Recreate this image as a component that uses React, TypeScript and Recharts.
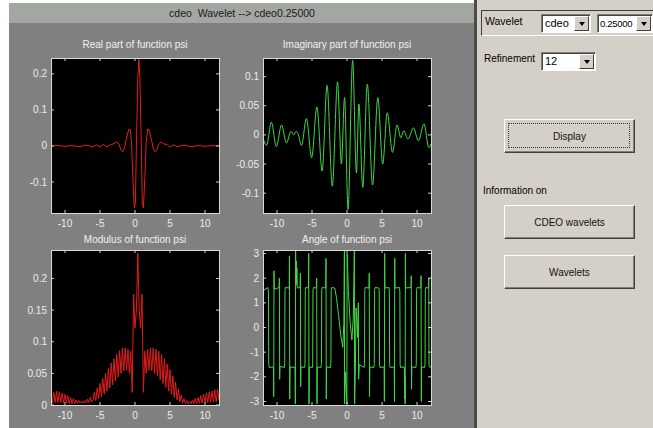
import React from 'react';
import { LineChart, Line, XAxis, YAxis } from 'recharts';

// shared x range and ticks
const xTicks = [-10, -5, 0, 5, 10];

// Real part of psi
const realX = [
  -12, -11, -10, -9, -8, -7, -6, -5.5, -5, -4.5,
  -4, -3.5, -3, -2.6, -2.3, -2, -1.75, -1.5, -1.2, -0.9,
  -0.7, -0.5, -0.3, -0.1, 0.05, 0.2, 0.4, 0.55, 0.7, 0.9,
  1.05, 1.2, 1.4, 1.6, 1.8, 2, 2.3, 2.6, 2.85, 3.1,
  3.4, 3.7, 4.1, 4.6, 5, 5.5, 6, 7, 8, 9,
  10, 11, 12,
];
const realY = [
  0, 0.001, -0.001, 0.001, -0.002, 0.002, -0.002, 0.003, -0.002, 0.004,
  -0.003, 0.004, 0.006, 0.011, 0.006, -0.012, -0.016, -0.006, 0.022, 0.045,
  0.047, 0.01, -0.09, -0.172, -0.16, 0, 0.19, 0.24, 0.19, 0,
  -0.16, -0.172, -0.09, 0.01, 0.047, 0.045, 0.022, -0.006, -0.016, -0.012,
  0.006, 0.011, 0.006, 0.003, -0.003, 0.003, -0.002, 0.002, -0.002, 0.001,
  -0.001, 0.001, 0,
];

// Imaginary part of psi
const imagX = [
  -12, -11.5, -10.8, -10.1, -9.35, -8.65, -8, -7.6, -7.3, -7,
  -6.5, -5.8, -5.05, -4.3, -3.55, -2.85, -2.1, -1.35, -0.8, -0.35,
  0.15, 0.8, 1.35, 1.7, 2.25, 2.9, 3.65, 4.4, 5.1, 5.75,
  6.5, 7.15, 7.7, 8.1, 8.7, 9.5, 10.2, 11, 11.7, 12,
];
const imagY = [
  -0.005, -0.018, 0.022, -0.02, 0.017, -0.014, 0.006, 0, 0.006, 0.002,
  -0.018, 0.028, -0.039, 0.048, -0.062, 0.085, -0.088, 0.091, -0.05, 0.064,
  -0.128, 0.128, -0.065, 0.053, -0.09, 0.087, -0.086, 0.064, -0.05, 0.038,
  -0.03, 0.017, -0.005, 0.007, -0.007, 0.012, -0.01, 0.019, -0.022, -0.015,
];

// Modulus of psi
const modX = [
  -12, -11.8, -11.6, -11.4, -11.2, -11, -10.8, -10.6, -10.4, -10.2,
  -10, -9.8, -9.6, -9.4, -9.2, -9, -8.8, -8.6, -8.4, -8.2,
  -8, -7.8, -7.6, -7.4, -7.2, -7, -6.8, -6.6, -6.4, -6.2,
  -6, -5.8, -5.6, -5.4, -5.2, -5, -4.8, -4.6, -4.4, -4.2,
  -4, -3.8, -3.6, -3.4, -3.2, -3, -2.8, -2.6, -2.4, -2.2,
  -2, -1.8, -1.6, -1.4, -1.2, -1, -0.8, -0.6, -0.4, -0.2,
  0, 0.2, 0.4, 0.6, 0.8, 1, 1.2, 1.4, 1.6, 1.8,
  2, 2.2, 2.4, 2.6, 2.8, 3, 3.2, 3.4, 3.6, 3.8,
  4, 4.2, 4.4, 4.6, 4.8, 5, 5.2, 5.4, 5.6, 5.8,
  6, 6.2, 6.4, 6.6, 6.8, 7, 7.2, 7.4, 7.6, 7.8,
  8, 8.2, 8.4, 8.6, 8.8, 9, 9.2, 9.4, 9.6, 9.8,
  10, 10.2, 10.4, 10.6, 10.8, 11, 11.2, 11.4, 11.6, 11.8,
  12,
];
const modY = [
  0.016, 0.003, 0.02, 0.004, 0.022, 0.004, 0.021, 0.004, 0.019, 0.003,
  0.017, 0.003, 0.015, 0.002, 0.012, 0.002, 0.01, 0.002, 0.008, 0.002,
  0.007, 0.003, 0.006, 0.003, 0.007, 0.003, 0.009, 0.004, 0.012, 0.005,
  0.008, 0.02, 0.007, 0.027, 0.01, 0.034, 0.013, 0.042, 0.017, 0.05,
  0.022, 0.058, 0.027, 0.066, 0.032, 0.073, 0.038, 0.08, 0.044, 0.086,
  0.05, 0.09, 0.054, 0.09, 0.055, 0.088, 0.05, 0.085, 0.02, 0.175,
  0.122, 0.15, 0.24, 0.15, 0.122, 0.175, 0.02, 0.085, 0.05, 0.088,
  0.055, 0.09, 0.054, 0.09, 0.05, 0.088, 0.046, 0.085, 0.04, 0.08,
  0.034, 0.073, 0.028, 0.065, 0.022, 0.056, 0.017, 0.046, 0.012, 0.036,
  0.008, 0.025, 0.005, 0.016, 0.003, 0.01, 0.002, 0.007, 0.002, 0.006,
  0.002, 0.008, 0.002, 0.01, 0.002, 0.012, 0.003, 0.015, 0.003, 0.017,
  0.004, 0.019, 0.004, 0.021, 0.004, 0.022, 0.005, 0.024, 0.005, 0.025,
  0.008,
];

// Angle of psi
const angleX = [
  -12, -11.96, -11.3, -11.22, -11.18, -11.1, -10.5, -10.47, -10.43, -10.4,
  -9.7, -9.66, -9.62, -9.58, -8.95, -8.9, -8.86, -8.8, -8.25, -8.22,
  -8.18, -8.14, -7.42, -7.38, -7.34, -7.3, -7.25, -7.2, -7.15, -7.1,
  -6.7, -6.66, -6.62, -6.58, -6.05, -6, -5.96, -5.9, -5.5, -5.47,
  -5.43, -5.39, -4.95, -4.9, -4.86, -4.8, -4.36, -4.33, -4.29, -4.25,
  -3.7, -3.65, -3.61, -3.55, -3.03, -3, -2.96, -2.92, -2.35, -2.3,
  -2.26, -2.2, -1.75, -1.5, -1.2, -0.9, -0.6, -0.45, -0.4, -0.37,
  -0.35, -0.2, -0.05, -0.02, 0.02, 0.2, 0.45, 0.7, 0.9, 1.05,
  1.09, 1.2, 1.3, 1.5, 1.62, 1.66, 1.75, 2.45, 2.5, 2.54,
  2.6, 3.15, 3.18, 3.22, 3.26, 3.85, 3.9, 3.94, 4, 4.55,
  4.6, 4.64, 4.7, 5.31, 5.34, 5.38, 5.42, 6, 6.05, 6.09,
  6.15, 6.75, 6.78, 6.82, 6.86, 7.5, 7.55, 7.59, 7.65, 8.2,
  8.24, 8.26, 8.28, 8.31, 8.34, 8.38, 9.15, 9.18, 9.22, 9.26,
  9.85, 9.9, 9.94, 10, 10.55, 10.58, 10.62, 10.66, 11.1, 11.15,
  11.19, 11.25, 11.65, 11.68, 11.72, 11.76, 12,
];
const angleY = [
  0.2, 1.5, 1.62, 1.45, -1.5, -1.62, -1.6, -2.8, 2.3, 1.55,
  1.62, 2.0, -2.1, -1.58, -1.62, -1.45, 1.5, 1.62, 1.6, 2.9,
  -2.9, -1.6, -1.62, -3.1, 3.1, 1.7, 2.7, 1.8, 2.4, 1.6,
  1.62, 2.2, -2.4, -1.6, -1.62, -1.45, 1.5, 1.62, 1.6, 3.0,
  -3.1, -1.6, -1.62, -1.45, 1.5, 1.62, 1.6, 2.0, -3.1, -1.6,
  -1.62, -1.45, 1.5, 1.62, 1.6, 2.8, -2.9, -1.6, -1.62, -1.45,
  1.5, 1.62, 1.6, 1.2, 0.5, -0.3, -0.8, 0.2, 2.2, 3.1,
  -3.1, -1.8, -2.9, -3.1, 3.0, 1.5, 0.2, -0.5, 0.4, 3.1,
  -3.1, -1.6, 0.8, -0.4, 1.0, -2.1, -1.5, -1.62, -1.45, 1.5,
  1.62, 1.6, 2.2, -2.8, -1.6, -1.62, -1.45, 1.5, 1.62, 1.6,
  1.45, -1.5, -1.62, -1.6, -3.0, 3.0, 1.6, 1.62, 1.45, -1.5,
  -1.62, -1.6, -3.0, 2.8, 1.6, 1.62, 1.45, -1.5, -1.62, -1.6,
  -2.2, -2.9, -2.0, -3.1, 3.0, 1.6, 1.62, 2.1, -2.5, -1.6,
  -1.62, -1.45, 1.5, 1.62, 1.6, 2.1, -3.0, -1.6, -1.62, -1.45,
  1.5, 1.62, 1.6, 2.0, -1.5, -1.6, -1.6,
];

const realTicks = [-0.1, 0, 0.1, 0.2];
const imagTicks = [-0.1, -0.05, 0, 0.05, 0.1];
const modTicks = [0, 0.05, 0.1, 0.15, 0.2];
const angleTicks = [-3, -2, -1, 0, 1, 2, 3];

const FONT = '"Liberation Sans", Arial, sans-serif';
const PANEL = '#d4d0c8';
const RED = '#e41c1c';
const GREEN = '#3fd83f';

// plot geometry (pixels)
const PW = 168;
const PH = 155;
const YW = 40;
const MT = 4;
const MR = 6;
const XH = 22;

type PanelProps = {
  left: number;
  top: number;
  titleTop: number;
  title: string;
  xs: number[];
  ys: number[];
  domain: [number, number];
  yTicks: number[];
  color: string;
  curve: 'linear' | 'monotone';
};

function Panel({ left, top, titleTop, title, xs, ys, domain, yTicks, color, curve }: PanelProps) {
  const data = xs.map((x, i) => ({ x, y: ys[i] }));
  const pL = YW;
  const pR = YW + PW;
  const pT = MT;
  const pB = MT + PH;
  const tickColor = '#d0d0d0';

  const XTick = (p: any) => (
    <g>
      <line x1={p.x} x2={p.x} y1={pB} y2={pB - 3} stroke={tickColor} />
      <line x1={p.x} x2={p.x} y1={pT} y2={pT + 3} stroke={tickColor} />
      <text x={p.x} y={pB + 14} textAnchor="middle" fill="#ececec" fontSize={10} fontFamily={FONT}>
        {p.payload.value}
      </text>
    </g>
  );
  const YTick = (p: any) => (
    <g>
      <line x1={pL} x2={pL + 3} y1={p.y} y2={p.y} stroke={tickColor} />
      <line x1={pR - 3} x2={pR} y1={p.y} y2={p.y} stroke={tickColor} />
      <text x={pL - 4} y={p.y + 3.5} textAnchor="end" fill="#ececec" fontSize={10} fontFamily={FONT}>
        {p.payload.value}
      </text>
    </g>
  );

  return (
    <>
      <div
        style={{
          position: 'absolute', left: left - 30, top: titleTop, width: PW + 60,
          textAlign: 'center', color: '#f0f0f0', fontSize: 10, fontFamily: FONT, lineHeight: '12px',
        }}
      >
        {title}
      </div>
      <div style={{ position: 'absolute', left, top, width: PW, height: PH, background: '#000' }} />
      <div style={{ position: 'absolute', left: left - YW, top: top - MT }}>
        <LineChart
          width={YW + PW + MR}
          height={MT + PH + XH}
          data={data}
          margin={{ top: MT, right: MR, bottom: 0, left: 0 }}
        >
          <XAxis
            dataKey="x" type="number" domain={[-12, 12]} ticks={xTicks} interval={0}
            tick={XTick} tickLine={false} axisLine={false} height={XH} allowDataOverflow
          />
          <YAxis
            type="number" domain={domain} ticks={yTicks} interval={0}
            tick={YTick} tickLine={false} axisLine={false} width={YW} allowDataOverflow
          />
          <Line
            dataKey="y" type={curve} stroke={color} strokeWidth={1}
            dot={false} isAnimationActive={false}
          />
        </LineChart>
      </div>
      <div
        style={{
          position: 'absolute', left, top, width: PW + 1, height: PH + 1,
          boxSizing: 'border-box', border: '1px solid #d8d8d8', pointerEvents: 'none',
        }}
      />
    </>
  );
}

function Button({ top, label, focus }: { top: number; label: string; focus?: boolean }) {
  return (
    <div
      style={{
        position: 'absolute', left: 504, top, width: 131, height: 34, background: PANEL,
        boxSizing: 'border-box', borderStyle: 'solid', borderWidth: 1,
        borderColor: '#ffffff #404040 #404040 #ffffff', boxShadow: 'inset -1px -1px 0 #808080',
        display: 'flex', alignItems: 'center', justifyContent: 'center',
        fontSize: 10, fontFamily: FONT, color: '#111',
      }}
    >
      {focus && (
        <div style={{ position: 'absolute', left: 3, top: 3, right: 4, bottom: 4, border: '1px dotted #333' }} />
      )}
      {label}
    </div>
  );
}

function Select({ left, top, width, text, small }: { left: number; top: number; width: number; text: string; small?: boolean }) {
  return (
    <div
      style={{
        position: 'absolute', left, top, width, height: 19, background: '#fff',
        boxSizing: 'border-box', borderStyle: 'solid', borderWidth: 1,
        borderColor: '#808080 #ffffff #ffffff #808080', boxShadow: 'inset 1px 1px 0 #404040',
        overflow: 'hidden', fontSize: small ? 9.5 : 11, fontFamily: FONT, color: '#000',
      }}
    >
      <div
        style={{
          position: 'absolute', left: small ? 2 : 3, top: small ? 3 : 2, whiteSpace: 'nowrap',
          letterSpacing: small ? -0.3 : 0,
        }}
      >
        {text}
      </div>
      <div
        style={{
          position: 'absolute', right: 1, top: 1, width: 15, height: 15, background: PANEL,
          boxSizing: 'border-box', borderStyle: 'solid', borderWidth: 1,
          borderColor: '#ffffff #404040 #404040 #ffffff',
        }}
      >
        <div
          style={{
            width: 0, height: 0, margin: '5px auto 0', borderLeft: '3.5px solid transparent',
            borderRight: '3.5px solid transparent', borderTop: '4px solid #000',
          }}
        />
      </div>
    </div>
  );
}

export default function App() {
  return (
    <div
      style={{
        position: 'absolute', left: 0, top: 0, width: 653, height: 428,
        background: '#fff', overflow: 'hidden', fontFamily: FONT,
      }}
    >
      {/* figure area */}
      <div style={{ position: 'absolute', left: 9, top: 3, width: 466, height: 425, background: '#808080' }} />
      <div
        style={{
          position: 'absolute', left: 9, top: 3, width: 466, height: 20, background: '#a3a7a1',
          textAlign: 'center', fontSize: 10.5, lineHeight: '20px', color: '#1a1a1a', whiteSpace: 'pre',
        }}
      >
        {'cdeo  Wavelet --> cdeo0.25000'}
      </div>
      <div style={{ position: 'absolute', left: 474, top: 0, width: 3, height: 428, background: '#4a4a4a' }} />

      <Panel left={51} top={58} titleTop={39} title="Real part of function psi"
        xs={realX} ys={realY} domain={[-0.186, 0.244]} yTicks={realTicks} color={RED} curve="linear" />
      <Panel left={263} top={58} titleTop={39} title="Imaginary part of function psi"
        xs={imagX} ys={imagY} domain={[-0.134, 0.132]} yTicks={imagTicks} color={GREEN} curve="monotone" />
      <Panel left={51} top={250} titleTop={234} title="Modulus of function psi"
        xs={modX} ys={modY} domain={[0, 0.245]} yTicks={modTicks} color={RED} curve="linear" />
      <Panel left={263} top={250} titleTop={234} title="Angle of function psi"
        xs={angleX} ys={angleY} domain={[-Math.PI, Math.PI]} yTicks={angleTicks} color={GREEN} curve="linear" />

      {/* control panel */}
      <div style={{ position: 'absolute', left: 477, top: 0, width: 176, height: 428, background: PANEL }} />
      <div
        style={{
          position: 'absolute', left: 481, top: 10, width: 180, height: 26, boxSizing: 'border-box',
          borderStyle: 'solid', borderWidth: 1, borderColor: '#404040 #ffffff #ffffff #404040',
        }}
      />
      <div style={{ position: 'absolute', left: 485, top: 15, fontSize: 10.5, color: '#000' }}>Wavelet</div>
      <Select left={541} top={14} width={50} text="cdeo" />
      <Select left={597} top={14} width={56} text="0.25000" small />
      <div style={{ position: 'absolute', left: 484, top: 53, fontSize: 10, color: '#000' }}>Refinement</div>
      <Select left={541} top={52} width={55} text="12" />

      <Button top={119} label="Display" focus />
      <div style={{ position: 'absolute', left: 483, top: 185, fontSize: 10, color: '#000' }}>Information on</div>
      <Button top={205} label="CDEO wavelets" />
      <Button top={255} label="Wavelets" />
    </div>
  );
}
